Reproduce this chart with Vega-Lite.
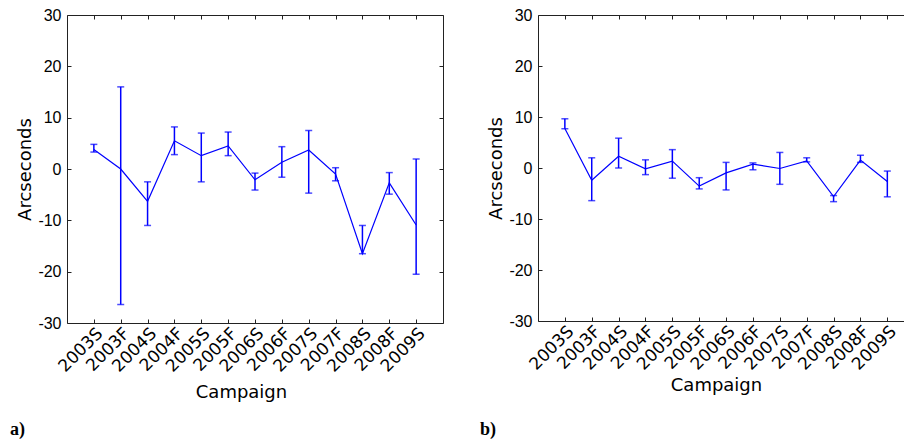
{
  "$schema": "https://vega.github.io/schema/vega-lite/v6.json",
  "padding": {"left": 10, "top": 7, "right": 0, "bottom": 0},
  "autosize": {"type": "pad"},
  "bounds": "flush",
  "spacing": 95,
  "config": {
    "view": {"stroke": null},
    "axis": {
      "grid": false,
      "domainColor": "#222",
      "tickColor": "#222",
      "labelColor": "#000",
      "titleColor": "#000",
      "tickSize": -4,
      "domainWidth": 1,
      "tickWidth": 1,
      "titleFontWeight": "normal",
      "titleFont": "DejaVu Sans",
      "titleFontSize": 18
    }
  },
  "datasets": {
    "a": [
      {"campaign": "2003S", "value": 3.8, "lo": 3.3, "hi": 4.8},
      {"campaign": "2003F", "value": 0.0, "lo": -26.4, "hi": 16.0},
      {"campaign": "2004S", "value": -6.3, "lo": -11.0, "hi": -2.5},
      {"campaign": "2004F", "value": 5.5, "lo": 2.8, "hi": 8.2},
      {"campaign": "2005S", "value": 2.6, "lo": -2.5, "hi": 7.0},
      {"campaign": "2005F", "value": 4.5, "lo": 2.6, "hi": 7.2},
      {"campaign": "2006S", "value": -2.1, "lo": -4.1, "hi": -0.8},
      {"campaign": "2006F", "value": 1.3, "lo": -1.6, "hi": 4.35},
      {"campaign": "2007S", "value": 3.7, "lo": -4.7, "hi": 7.5},
      {"campaign": "2007F", "value": -1.0, "lo": -2.3, "hi": 0.25},
      {"campaign": "2008S", "value": -16.5, "lo": -16.5, "hi": -11.0},
      {"campaign": "2008F", "value": -2.7, "lo": -4.9, "hi": -0.7},
      {"campaign": "2009S", "value": -10.9, "lo": -20.5, "hi": 1.95}
    ],
    "b": [
      {"campaign": "2003S", "value": 7.75, "lo": 7.7, "hi": 9.65},
      {"campaign": "2003F", "value": -2.4, "lo": -6.4, "hi": 2.0},
      {"campaign": "2004S", "value": 2.3, "lo": 0.0, "hi": 5.85},
      {"campaign": "2004F", "value": -0.15, "lo": -1.3, "hi": 1.6},
      {"campaign": "2005S", "value": 1.35, "lo": -2.0, "hi": 3.6},
      {"campaign": "2005F", "value": -3.55, "lo": -4.1, "hi": -1.9},
      {"campaign": "2006S", "value": -0.95, "lo": -4.3, "hi": 1.1},
      {"campaign": "2006F", "value": 0.75, "lo": -0.35, "hi": 1.0},
      {"campaign": "2007S", "value": -0.1, "lo": -3.2, "hi": 3.05},
      {"campaign": "2007F", "value": 1.4, "lo": 1.2, "hi": 2.0},
      {"campaign": "2008S", "value": -5.6, "lo": -6.6, "hi": -5.4},
      {"campaign": "2008F", "value": 1.55, "lo": 1.1, "hi": 2.5},
      {"campaign": "2009S", "value": -2.65, "lo": -5.65, "hi": -0.6}
    ]
  },
  "hconcat": [
    {
      "width": 376,
      "height": 308,
      "data": {"name": "a"},
      "title": {"text": "a)", "orient": "bottom", "anchor": "start", "frame": "group", "font": "Liberation Serif", "fontWeight": "bold", "fontSize": 18, "dx": -57, "offset": 19, "color": "#000"},
      "resolve": {"axis": {"x": "independent", "y": "independent"}},
      "layer": [
        {
          "mark": {"type": "line", "color": "#0000ff", "strokeWidth": 1.2},
          "encoding": {
            "x": {"field": "campaign", "type": "nominal", "sort": null, "scale": {"type": "point", "padding": 1},
                  "axis": {"orient": "bottom", "title": "Campaign", "labelAngle": -45, "labelFont": "DejaVu Sans", "labelFontSize": 17, "labelPadding": 6, "titleX": 174, "titlePadding": 9, "domain": true}},
            "y": {"field": "value", "type": "quantitative", "scale": {"domain": [-30, 30], "nice": false},
                  "axis": {"orient": "left", "title": "Arcseconds", "values": [-30, -20, -10, 0, 10, 20, 30], "labelExpr": "datum.value + ''", "labelFont": "Liberation Sans", "labelFontSize": 16, "labelPadding": 10, "titlePadding": 3}}
          }
        },
        {
          "mark": {"type": "rule", "color": "#0000ff", "strokeWidth": 1.5},
          "encoding": {
            "x": {"field": "campaign", "type": "nominal", "sort": null,
                  "axis": {"orient": "top", "labels": false, "title": null, "domain": true}},
            "y": {"field": "lo", "type": "quantitative",
                  "axis": {"orient": "right", "labels": false, "title": null, "values": [-30, -20, -10, 0, 10, 20, 30], "domain": true}},
            "y2": {"field": "hi"}
          }
        },
        {
          "mark": {"type": "tick", "color": "#0000ff", "size": 7, "thickness": 1.5},
          "encoding": {
            "x": {"field": "campaign", "type": "nominal", "sort": null, "axis": null},
            "y": {"field": "lo", "type": "quantitative", "axis": null}
          }
        },
        {
          "mark": {"type": "tick", "color": "#0000ff", "size": 7, "thickness": 1.5},
          "encoding": {
            "x": {"field": "campaign", "type": "nominal", "sort": null, "axis": null},
            "y": {"field": "hi", "type": "quantitative", "axis": null}
          }
        }
      ]
    },
    {
      "width": 366,
      "height": 306,
      "data": {"name": "b"},
      "title": {"text": "b)", "orient": "bottom", "anchor": "start", "frame": "group", "font": "Liberation Serif", "fontWeight": "bold", "fontSize": 18, "dx": -58, "offset": 26, "color": "#000"},
      "resolve": {"axis": {"x": "independent", "y": "independent"}},
      "layer": [
        {
          "mark": {"type": "line", "color": "#0000ff", "strokeWidth": 1.2},
          "encoding": {
            "x": {"field": "campaign", "type": "nominal", "sort": null, "scale": {"type": "point", "padding": 0.81, "align": 0.617},
                  "axis": {"orient": "bottom", "title": "Campaign", "labelAngle": -45, "labelFont": "DejaVu Sans", "labelFontSize": 17, "labelPadding": 6, "titleX": 178, "titlePadding": 4, "domain": true}},
            "y": {"field": "value", "type": "quantitative", "scale": {"domain": [-30, 30], "nice": false},
                  "axis": {"orient": "left", "title": "Arcseconds", "values": [-30, -20, -10, 0, 10, 20, 30], "labelExpr": "datum.value + ''", "labelFont": "Liberation Sans", "labelFontSize": 16, "labelPadding": 10, "titlePadding": 3}}
          }
        },
        {
          "mark": {"type": "rule", "color": "#0000ff", "strokeWidth": 1.5},
          "encoding": {
            "x": {"field": "campaign", "type": "nominal", "sort": null,
                  "axis": {"orient": "top", "labels": false, "title": null, "domain": true}},
            "y": {"field": "lo", "type": "quantitative", "axis": null},
            "y2": {"field": "hi"}
          }
        },
        {
          "mark": {"type": "tick", "color": "#0000ff", "size": 7, "thickness": 1.5},
          "encoding": {
            "x": {"field": "campaign", "type": "nominal", "sort": null, "axis": null},
            "y": {"field": "lo", "type": "quantitative", "axis": null}
          }
        },
        {
          "mark": {"type": "tick", "color": "#0000ff", "size": 7, "thickness": 1.5},
          "encoding": {
            "x": {"field": "campaign", "type": "nominal", "sort": null, "axis": null},
            "y": {"field": "hi", "type": "quantitative", "axis": null}
          }
        }
      ]
    }
  ]
}
